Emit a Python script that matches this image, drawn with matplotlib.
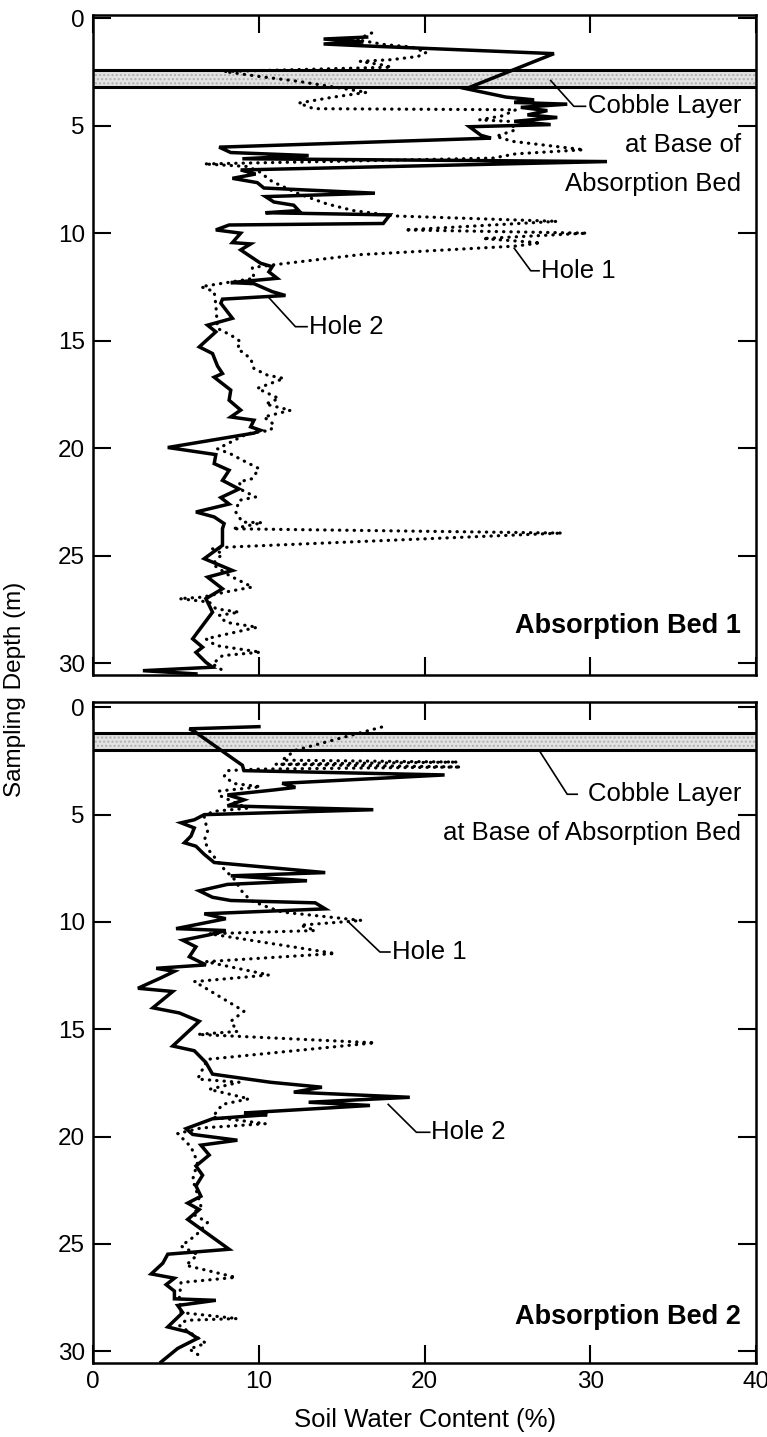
import matplotlib
matplotlib.use("Agg")
import matplotlib.pyplot as plt

plt.rcParams['font.family'] = ['Liberation Sans', 'DejaVu Sans']

# ---- Absorption Bed 1 ----
bed1_hole2_depth = [0.88, 0.97, 1.11, 1.20, 1.28, 1.65, 3.28, 3.67, 3.80, 3.92, 4.00, 4.15, 4.30,
                    4.50, 4.62, 4.80, 4.95, 5.05, 5.45, 5.58, 6.00, 6.25, 6.39, 6.54, 6.67, 7.06,
                    7.25, 7.45, 7.65, 7.90, 8.14, 8.30, 8.55, 8.70, 8.95, 9.05, 9.15, 9.55, 9.62,
                    9.85, 10.00, 10.44, 10.50, 10.78, 11.40, 11.56, 11.80, 12.10, 12.30, 12.35,
                    12.72, 12.90, 13.07, 13.26, 13.96, 14.28, 14.59, 15.29, 15.60, 16.18, 16.53,
                    16.70, 17.30, 17.77, 18.23, 18.55, 18.70, 19.01, 19.17, 19.30, 19.97, 20.30,
                    20.72, 21.03, 21.50, 21.90, 22.30, 22.60, 22.97, 23.20, 23.51, 23.75, 24.52,
                    25.14, 25.69, 26.00, 26.54, 27.00, 27.63, 28.25, 28.87, 29.26, 29.50, 29.96,
                    30.19, 30.35, 30.50]
bed1_hole2_wc = [16.5, 13.9, 16.3, 13.9, 16.1, 27.8, 22.5, 24.9, 26.6, 25.4, 28.6, 25.8, 27.4,
                 26.2, 28.0, 25.4, 27.6, 22.7, 23.4, 24.0, 7.6, 8.3, 13.0, 9.0, 31.0, 8.9,
                 9.8, 8.4, 9.9, 10.3, 17.0, 10.4, 10.9, 12.1, 12.4, 10.4, 17.9, 17.5, 8.2,
                 7.4, 8.9, 8.4, 9.5, 8.9, 10.1, 10.8, 10.6, 11.1, 8.3, 9.7,
                 10.8, 11.6, 7.8, 7.7, 8.4, 6.9, 7.4, 6.4, 7.2, 7.5, 7.8,
                 7.3, 8.3, 8.2, 8.9, 8.3, 9.7, 9.5, 10.1, 9.7, 4.5, 7.4,
                 7.3, 8.2, 7.8, 8.8, 7.7, 8.2, 6.2, 7.3, 7.9, 7.8, 7.8,
                 6.7, 8.4, 6.9, 7.8, 6.8, 7.2, 6.6, 6.0, 6.6, 6.2, 6.8,
                 7.2, 3.0, 6.2]

bed1_hole1_depth = [0.69, 1.00, 1.23, 1.34, 1.59, 1.78, 1.93, 2.01, 2.17, 2.28, 2.48, 2.71, 2.94,
                    3.25, 3.45, 3.67, 3.95, 4.21, 4.26, 4.54, 4.73, 4.80, 5.19, 5.50, 5.73, 6.12,
                    6.31, 6.51, 6.78, 6.90, 7.13, 7.60, 8.17, 8.64, 8.95, 9.20, 9.45, 9.85, 10.00,
                    10.25, 10.45, 10.60, 11.00, 11.48, 11.60, 12.10, 12.49, 12.72, 13.34, 14.43,
                    14.74, 15.05, 15.36, 15.83, 16.30, 16.60, 16.76, 17.22, 17.69, 17.95, 18.24,
                    18.55, 18.90, 19.17, 19.33, 20.03, 20.27, 20.56, 20.95, 21.42, 21.57, 21.96,
                    22.27, 22.43, 22.97, 23.44, 23.47, 23.75, 23.95, 24.60, 24.68, 24.91, 25.40,
                    25.92, 26.46, 26.69, 26.93, 27.00, 27.16, 27.47, 27.63, 27.78, 28.10, 28.33,
                    28.87, 29.18, 29.49, 29.65, 30.04, 30.43]
bed1_hole1_wc = [16.8, 15.9, 17.6, 19.2, 20.1, 19.6, 18.0, 16.1, 17.4, 18.0, 7.9, 10.0, 12.4,
                 14.9, 16.5, 14.5, 12.4, 13.3, 25.5, 24.7, 23.3, 25.1, 25.5, 24.3, 25.3, 29.6,
                 25.5, 24.1, 6.7, 9.3, 10.0, 10.8, 12.4, 14.1, 15.7, 18.2, 28.0, 18.8, 29.8,
                 23.5, 27.0, 25.5, 16.1, 10.8, 9.6, 9.7, 6.5, 7.3, 7.4, 7.5,
                 8.3, 8.9, 8.7, 9.5, 9.7, 10.5, 11.5, 9.9, 11.2, 10.4, 11.9,
                 10.3, 10.9, 10.7, 9.3, 7.5, 8.3, 9.0, 10.0, 9.6, 8.8, 9.0,
                 9.8, 8.8, 8.6, 9.0, 10.2, 8.4, 28.3, 8.2, 7.2, 7.8, 7.2,
                 8.2, 9.6, 8.0, 6.6, 5.2, 7.0, 7.4, 8.8, 7.6, 8.0, 9.9,
                 6.8, 7.4, 10.1, 7.8, 7.2, 8.0]

# ---- Absorption Bed 2 ----
bed2_hole2_depth = [0.90, 1.00, 1.12, 2.70, 2.95, 3.15, 3.54, 3.73, 3.85, 4.08, 4.31, 4.59, 4.77,
                    5.00, 5.24, 5.38, 5.62, 6.00, 6.31, 6.47, 6.85, 7.23, 7.70, 7.85, 8.08, 8.25,
                    8.55, 8.85, 9.00, 9.11, 9.39, 9.62, 9.85, 10.31, 10.40, 10.60, 10.85, 11.16,
                    11.62, 12.00, 12.16, 12.30, 12.60, 13.09, 13.24, 14.00, 14.24, 14.63, 15.78,
                    16.00, 16.55, 17.09, 17.47, 17.70, 17.93, 18.17, 18.40, 18.55, 18.90, 18.98,
                    19.17, 19.63, 19.90, 20.17, 20.40, 20.86, 21.37, 21.80, 22.30, 22.78, 23.10,
                    23.40, 23.86, 25.25, 25.48, 25.90, 26.40, 26.60, 26.90, 27.20, 27.56, 27.63,
                    27.87, 28.20, 28.87, 29.10, 29.40, 29.87, 30.50]
bed2_hole2_wc = [10.0, 5.8, 6.1, 9.0, 9.1, 21.2, 11.4, 12.2, 10.9, 8.1, 9.1, 8.1, 16.9,
                 6.7, 6.1, 5.3, 6.1, 5.9, 5.5, 6.2, 6.7, 7.3, 14.0, 8.3, 12.9, 8.1,
                 6.4, 7.2, 8.3, 13.4, 14.0, 6.7, 8.0, 5.0, 8.0, 7.0, 5.4, 6.2,
                 5.8, 6.8, 3.8, 4.9, 4.1, 2.7, 4.8, 3.6, 5.2, 6.4, 4.8,
                 6.1, 6.8, 7.2, 10.7, 13.8, 12.1, 19.1, 13.0, 16.7, 9.1, 10.5,
                 7.2, 5.6, 6.0, 8.7, 6.5, 7.0, 6.2, 6.6, 6.2, 6.5, 5.7,
                 6.4, 5.7, 8.2, 4.5, 4.2, 3.5, 4.9, 4.4, 4.9, 4.9, 7.4,
                 5.1, 5.4, 4.5, 5.7, 6.3, 5.1, 4.1]

bed2_hole1_depth = [0.92, 2.00, 2.46, 2.55, 2.65, 2.78, 2.88, 2.95, 3.22, 3.55, 3.70, 3.90, 4.10,
                    4.70, 4.85, 5.10, 5.77, 6.20, 6.68, 7.54, 8.00, 8.60, 9.00, 9.30, 9.54, 9.93,
                    10.15, 10.40, 10.55, 11.47, 11.85, 12.47, 12.78, 13.00, 14.16, 14.63, 15.10,
                    15.24, 15.63, 16.40, 17.32, 17.47, 17.80, 18.24, 18.50, 19.09, 19.40, 19.60,
                    19.86, 20.48, 21.20, 22.00, 22.70, 23.25, 23.60, 24.00, 24.60, 25.10, 25.50,
                    26.00, 26.56, 26.80, 27.50, 28.20, 28.48, 28.56, 28.80, 29.63, 29.90, 30.25]
bed2_hole1_wc = [17.4, 12.2, 11.4, 22.0, 11.0, 22.2, 9.8, 8.1, 7.9, 8.5, 10.1, 7.6, 7.6,
                 9.3, 7.2, 6.7, 6.9, 6.7, 7.0, 7.9, 8.5, 9.0, 9.5, 10.5, 11.4, 16.2,
                 12.5, 13.4, 7.0, 14.6, 6.8, 10.6, 6.1, 6.6, 9.1, 8.3, 8.7,
                 6.3, 17.0, 6.9, 6.3, 8.8, 7.0, 9.4, 7.8, 7.2, 10.4, 6.5,
                 5.1, 5.9, 6.3, 6.0, 6.3, 6.5, 6.0, 6.9, 6.2, 5.3, 6.3,
                 5.6, 8.6, 5.3, 5.2, 5.3, 8.7, 5.6, 5.2, 6.8, 5.8, 6.5]

cobble_layers = [(2.4, 3.2), (1.2, 2.0)]
depth_ticks = [0, 5, 10, 15, 20, 25, 30]
wc_ticks = [0, 10, 20, 30, 40]

fig = plt.figure(figsize=(7.67, 14.37), dpi=100)
ax1 = fig.add_axes([0.1215, 0.5303, 0.8644, 0.4593])
ax2 = fig.add_axes([0.1215, 0.0515, 0.8644, 0.4600])

dot = dict(color='black', lw=2.3, linestyle=(0, (0.1, 2.2)), dash_capstyle='round')
solid = dict(color='black', lw=2.5, solid_joinstyle='miter')

for ax, (top, bot), h1d, h1w, h2d, h2w, ytop in [
        (ax1, cobble_layers[0], bed1_hole1_depth, bed1_hole1_wc, bed1_hole2_depth, bed1_hole2_wc, -0.15),
        (ax2, cobble_layers[1], bed2_hole1_depth, bed2_hole1_wc, bed2_hole2_depth, bed2_hole2_wc, -0.25)]:
    ax.axhspan(top, bot, facecolor='#e2e2e2', edgecolor='#b0b0b0', hatch='....', lw=0, zorder=1)
    ax.axhline(top, color='black', lw=2.2, zorder=4)
    ax.axhline(bot, color='black', lw=2.2, zorder=4)
    ax.plot(h1w, h1d, **dot, zorder=3)
    ax.plot(h2w, h2d, **solid, zorder=3)
    ax.set_xlim(0, 40)
    ax.set_ylim(30.55, ytop)
    ax.set_yticks(depth_ticks)
    ax.set_xticks(wc_ticks)
    ax.tick_params(direction='in', length=13, width=1.5, top=True, right=True,
                   labelsize=17.5, pad=6)
    for s in ax.spines.values():
        s.set_linewidth(1.8)

ax1.tick_params(labelbottom=False)

ann = dict(fontsize=18.5, ha='right', va='center')
lead = dict(color='black', lw=1.2)

# Bed 1 annotations
ax1.plot([27.6, 29.0, 29.7], [2.9, 4.1, 4.1], **lead)
ax1.text(0.977, 4.1, 'Cobble Layer', transform=ax1.get_yaxis_transform(), **ann)
ax1.text(0.977, 5.9, 'at Base of', transform=ax1.get_yaxis_transform(), **ann)
ax1.text(0.977, 7.7, 'Absorption Bed', transform=ax1.get_yaxis_transform(), **ann)
ax1.plot([25.4, 26.4, 26.9], [10.7, 11.75, 11.75], **lead)
ax1.text(27.0, 11.75, 'Hole 1', fontsize=18.5, ha='left', va='center')
ax1.plot([10.6, 12.2, 12.9], [13.0, 14.35, 14.35], **lead)
ax1.text(13.0, 14.35, 'Hole 2', fontsize=18.5, ha='left', va='center')
ax1.text(0.977, 28.25, 'Absorption Bed 1', transform=ax1.get_yaxis_transform(),
         fontsize=19.5, fontweight='bold', ha='right', va='center')

# Bed 2 annotations
ax2.plot([26.9, 28.6, 29.2], [2.0, 4.05, 4.05], **lead)
ax2.text(0.977, 4.05, 'Cobble Layer', transform=ax2.get_yaxis_transform(), **ann)
ax2.text(0.977, 5.85, 'at Base of Absorption Bed', transform=ax2.get_yaxis_transform(), **ann)
ax2.plot([15.4, 17.3, 17.9], [10.0, 11.4, 11.4], **lead)
ax2.text(18.0, 11.4, 'Hole 1', fontsize=18.5, ha='left', va='center')
ax2.plot([17.8, 19.5, 20.3], [18.5, 19.8, 19.8], **lead)
ax2.text(20.4, 19.8, 'Hole 2', fontsize=18.5, ha='left', va='center')
ax2.text(0.977, 28.4, 'Absorption Bed 2', transform=ax2.get_yaxis_transform(),
         fontsize=19.5, fontweight='bold', ha='right', va='center')

fig.text(0.02, 0.52, 'Sampling Depth (m)', rotation=90, ha='center', va='center', fontsize=17.5)
fig.text(0.554, 0.012, 'Soil Water Content (%)', ha='center', va='center', fontsize=18.5)

fig.savefig('out.png', dpi=100)
